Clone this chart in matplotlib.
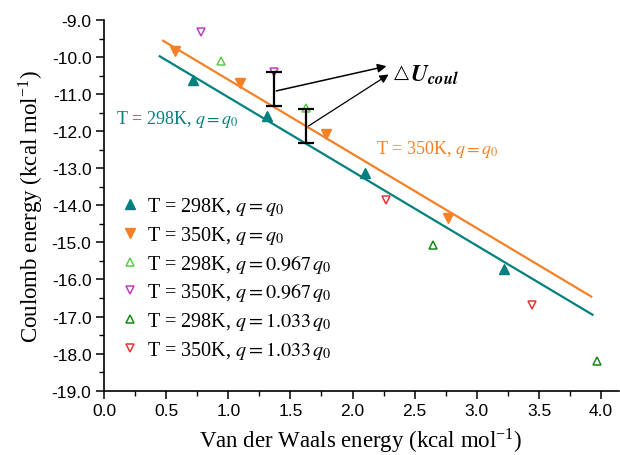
import matplotlib
matplotlib.use("Agg")
import matplotlib.pyplot as plt
from matplotlib.ticker import MultipleLocator, FormatStrFormatter

plt.rcParams['mathtext.fontset'] = 'stix'

# T = 298K, q = q0 (filled up triangles)
vdw_298_q0 = [0.717, 1.314, 2.103, 3.22]
coul_298_q0 = [-10.61, -11.58, -13.13, -15.72]
# T = 350K, q = q0 (filled down triangles)
vdw_350_q0 = [0.57, 1.097, 1.787, 2.77]
coul_350_q0 = [-9.83, -10.70, -12.08, -14.34]
# T = 298K, q = 0.967 q0
vdw_298_lo = [0.945, 1.627]
coul_298_lo = [-10.12, -11.38]
# T = 350K, q = 0.967 q0
vdw_350_lo = [0.784, 1.364]
coul_350_lo = [-9.33, -10.40]
# T = 298K, q = 1.033 q0
vdw_298_hi = [2.65, 3.97]
coul_298_hi = [-15.06, -18.19]
# T = 350K, q = 1.033 q0
vdw_350_hi = [2.269, 3.445]
coul_350_hi = [-13.86, -16.68]

# fitted lines (end points)
fit_x_298 = [0.449, 3.93]
fit_y_298 = [-9.98, -16.95]
fit_x_350 = [0.476, 3.92]
fit_y_350 = [-9.56, -16.46]

# delta U_coul bars: x, top, bottom
du_x = [1.364, 1.627]
du_top = [-10.41, -11.40]
du_bot = [-11.33, -12.32]

teal = '#00807f'
orange = '#f58025'
light_green = '#5ccc4a'
magenta = '#c03cc0'
dark_green = '#128a12'
red = '#ee3030'

fig = plt.figure(figsize=(6.2, 4.56), dpi=100)
ax = fig.add_axes([0.1677, 0.141, 0.83, 0.813])

ax.plot(fit_x_298, fit_y_298, color=teal, lw=1.6)
ax.plot(fit_x_350, fit_y_350, color=orange, lw=1.6)

ax.plot(vdw_298_q0, coul_298_q0, '^', color=teal, ms=6.5, ls='none',
        label=r'T = 298K, $q = q_0$')
ax.plot(vdw_350_q0, coul_350_q0, 'v', color=orange, ms=6.5, ls='none',
        label=r'T = 350K, $q = q_0$')
ax.plot(vdw_298_lo, coul_298_lo, '^', mfc='none', mec=light_green, ms=6, mew=1.1,
        ls='none', label=r'T = 298K, $q = 0.967\,q_0$')
ax.plot(vdw_350_lo, coul_350_lo, 'v', mfc='none', mec=magenta, ms=6, mew=1.1,
        ls='none', label=r'T = 350K, $q = 0.967\,q_0$')
ax.plot(vdw_298_hi, coul_298_hi, '^', mfc='none', mec=dark_green, ms=6, mew=1.1,
        ls='none', label=r'T = 298K, $q = 1.033\,q_0$')
ax.plot(vdw_350_hi, coul_350_hi, 'v', mfc='none', mec=red, ms=6, mew=1.1,
        ls='none', label=r'T = 350K, $q = 1.033\,q_0$')

# delta U bars
for x, t, b in zip(du_x, du_top, du_bot):
    ax.errorbar([x], [(t + b) / 2], yerr=[[(t - b) / 2], [(t - b) / 2]],
                fmt='none', ecolor='black', elinewidth=1.6, capsize=6, capthick=1.6)

ax.annotate('', xy=(2.295, -10.23), xytext=(du_x[0], -10.93),
            arrowprops=dict(arrowstyle='-|>', color='black', lw=1.1, mutation_scale=13))
ax.annotate('', xy=(2.309, -10.43), xytext=(du_x[1], -11.90),
            arrowprops=dict(arrowstyle='-|>', color='black', lw=0.9, mutation_scale=13))
ax.text(2.33, -10.38, '\u25b3', fontsize=14, family='DejaVu Sans', fontweight='bold',
        va='center', ha='left')
ax.text(2.465, -10.45, r'$\boldsymbol{U}_{\boldsymbol{coul}}$', fontsize=17,
        va='center', ha='left')

ax.text(0.10, -11.67, r'T = 298K, $q = q_0$', color=teal, fontsize=13,
        family='Liberation Serif', va='center')
ax.text(2.19, -12.48, r'T = 350K, $q = q_0$', color=orange, fontsize=13,
        family='Liberation Serif', va='center')

leg = ax.legend(loc='upper left', bbox_to_anchor=(0.02, 0.55), frameon=False,
                prop={'family': 'Liberation Serif', 'size': 14.5},
                handlelength=0.8, handletextpad=0.45, labelspacing=0.34, borderaxespad=0)

ax.set_xlim(0, 4.14)
ax.set_ylim(-19, -9)
ax.xaxis.set_major_locator(MultipleLocator(0.5))
ax.xaxis.set_minor_locator(MultipleLocator(0.25))
ax.yaxis.set_major_locator(MultipleLocator(1.0))
ax.yaxis.set_minor_locator(MultipleLocator(0.5))
ax.xaxis.set_major_formatter(FormatStrFormatter('%.1f'))
ax.yaxis.set_major_formatter(FormatStrFormatter('%.1f'))
ax.spines['top'].set_visible(False)
ax.spines['right'].set_visible(False)
for s in ('left', 'bottom'):
    ax.spines[s].set_linewidth(1.2)
ax.tick_params(which='major', direction='out', length=6, width=1.1,
               labelsize=12.5, pad=3)
ax.tick_params(which='minor', direction='out', length=3.5, width=1.0)
for lab in ax.get_xticklabels() + ax.get_yticklabels():
    lab.set_family('Liberation Sans')

ax.set_xlabel(r'Van der Waals energy (kcal mol$^{\mathregular{-1}}$)',
              family='Liberation Serif', fontsize=16.5, labelpad=5)
ax.set_ylabel(r'Coulomb energy (kcal mol$^{\mathregular{-1}}$)',
              family='Liberation Serif', fontsize=16.5, labelpad=5)

fig.savefig('out.png', dpi=100)
